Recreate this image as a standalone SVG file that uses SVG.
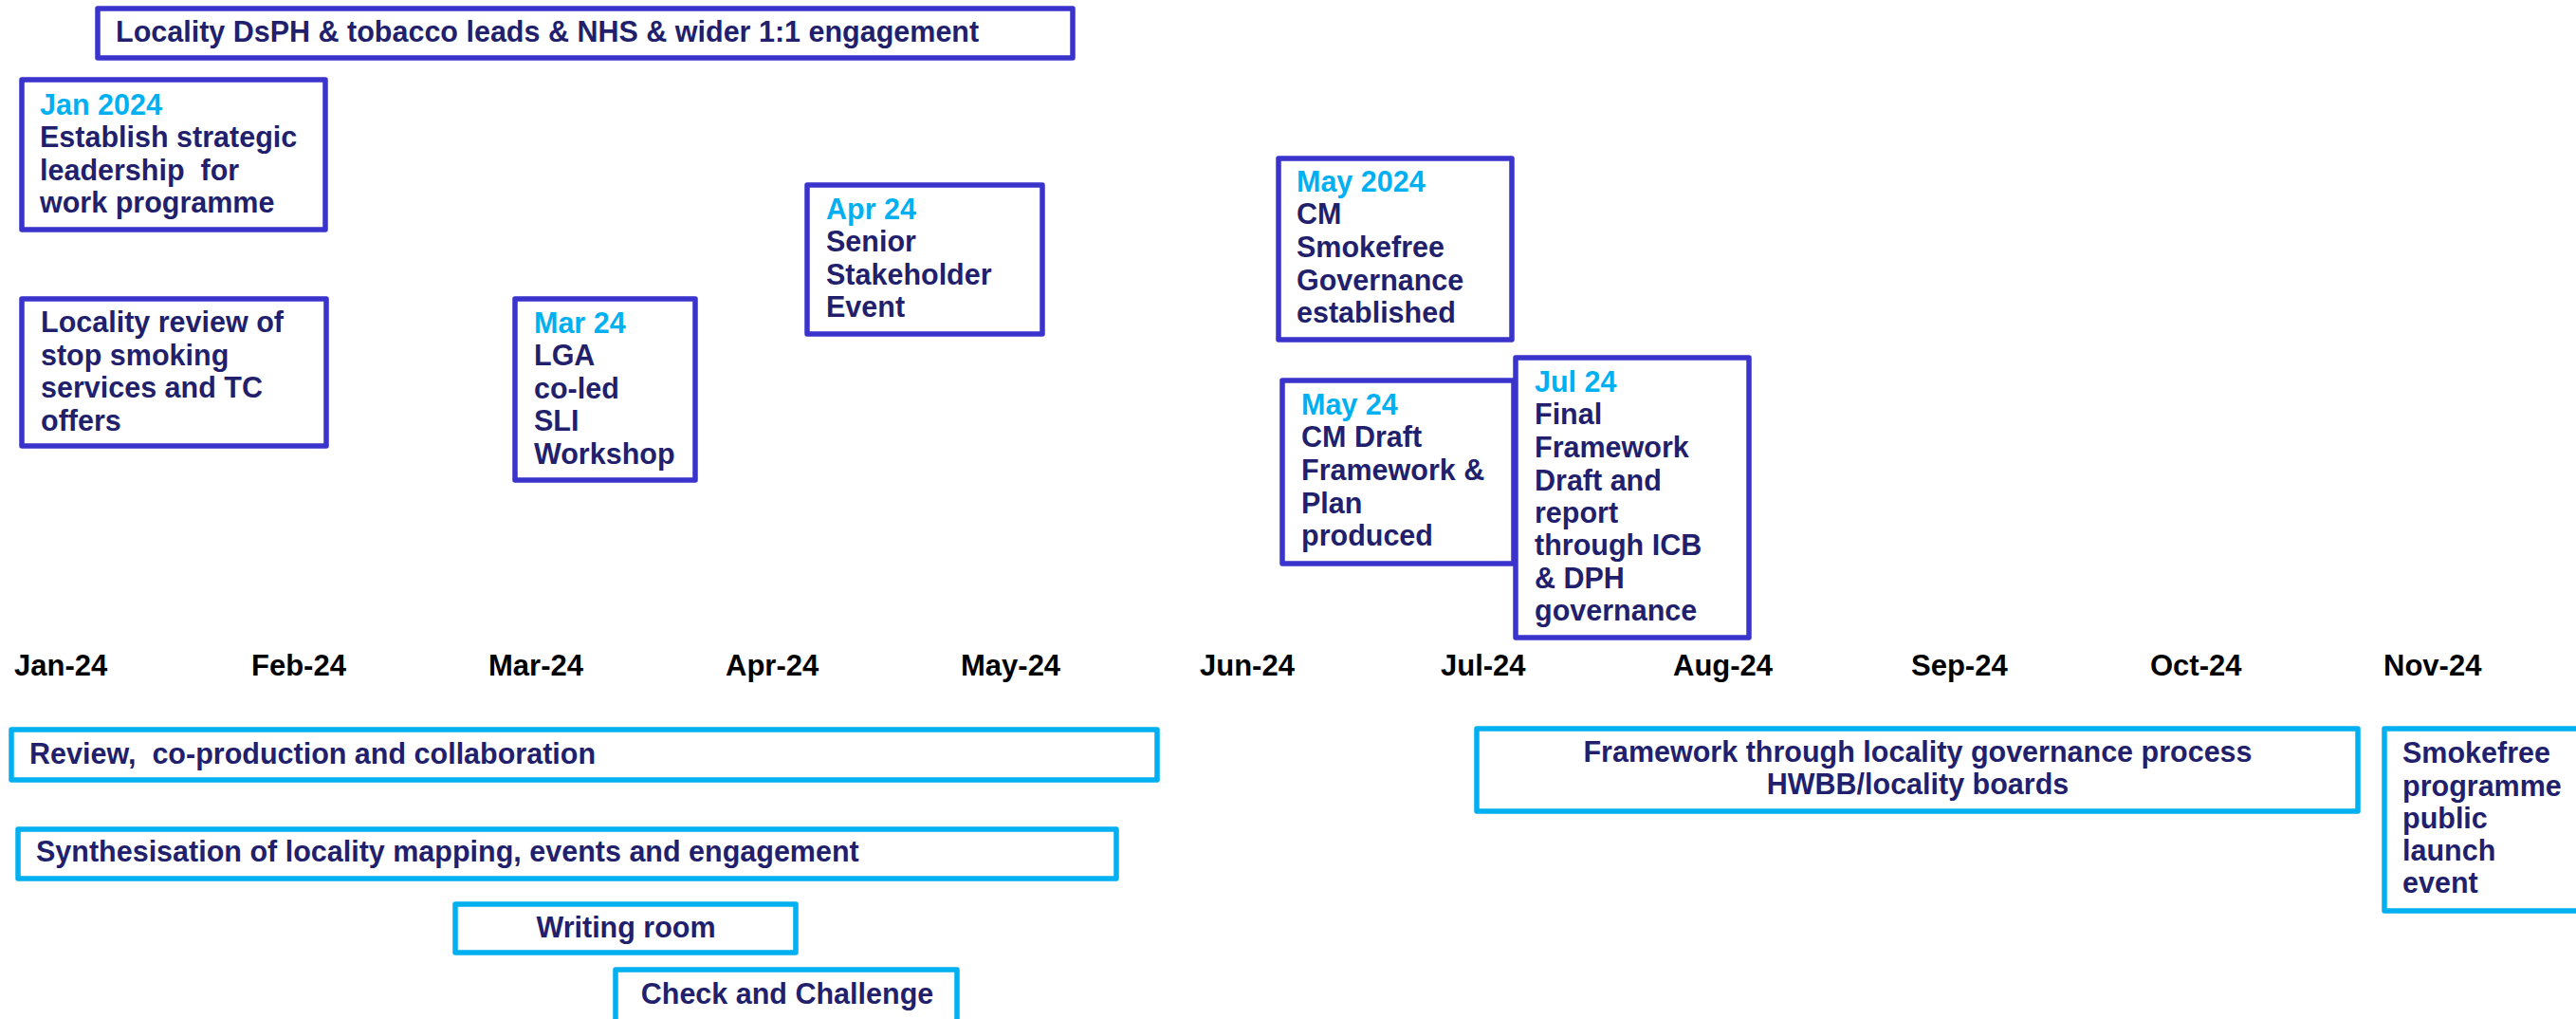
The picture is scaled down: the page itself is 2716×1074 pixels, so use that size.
<svg xmlns="http://www.w3.org/2000/svg" width="2716" height="1074" viewBox="0 0 2716 1074">
  <style>
    text { font-family: "Liberation Sans", Arial, sans-serif; font-weight: bold; font-size: 30.5px; fill: #221F6C; }
    .date { fill: #00B0F0; }
    .tick { fill: #000000; font-size: 31px; }
    .mid { text-anchor: middle; }
    .milestone { fill: #FFFFFF; stroke: #3A33CC; stroke-width: 5.5; stroke-linejoin: round; }
    .phase { fill: #FFFFFF; stroke: #00B0F0; stroke-width: 5.5; stroke-linejoin: round; }
  </style>

  <rect width="2716" height="1074" fill="#FFFFFF"/>

  <!-- milestone boxes above the timeline -->
  <g id="engagement">
    <rect class="milestone" x="103" y="9" width="1028" height="52"/>
    <text x="122" y="44">Locality DsPH &amp; tobacco leads &amp; NHS &amp; wider 1:1 engagement</text>
  </g>

  <g id="jan-2024">
    <rect class="milestone" x="23" y="84" width="320" height="158"/>
    <text x="42" y="121" class="date">Jan 2024</text>
    <text x="42" y="155">Establish strategic</text>
    <text x="42" y="190" xml:space="preserve">leadership  for</text>
    <text x="42" y="224">work programme</text>
  </g>

  <g id="locality-review">
    <rect class="milestone" x="23" y="315" width="321" height="155"/>
    <text x="43" y="350">Locality review of</text>
    <text x="43" y="385">stop smoking</text>
    <text x="43" y="419">services and TC</text>
    <text x="43" y="454">offers</text>
  </g>

  <g id="mar-24">
    <rect class="milestone" x="543" y="315" width="190" height="191"/>
    <text x="563" y="351" class="date">Mar 24</text>
    <text x="563" y="385">LGA</text>
    <text x="563" y="420">co-led</text>
    <text x="563" y="454">SLI</text>
    <text x="563" y="489">Workshop</text>
  </g>

  <g id="apr-24">
    <rect class="milestone" x="851" y="195" width="248" height="157"/>
    <text x="871" y="231" class="date">Apr 24</text>
    <text x="871" y="265">Senior</text>
    <text x="871" y="300">Stakeholder</text>
    <text x="871" y="334">Event</text>
  </g>

  <g id="may-2024">
    <rect class="milestone" x="1348" y="167" width="246" height="191"/>
    <text x="1367" y="202" class="date">May 2024</text>
    <text x="1367" y="236">CM</text>
    <text x="1367" y="271">Smokefree</text>
    <text x="1367" y="306">Governance</text>
    <text x="1367" y="340">established</text>
  </g>

  <g id="may-24">
    <rect class="milestone" x="1352" y="401" width="244" height="193"/>
    <text x="1372" y="437" class="date">May 24</text>
    <text x="1372" y="471">CM Draft</text>
    <text x="1372" y="506">Framework &amp;</text>
    <text x="1372" y="541">Plan</text>
    <text x="1372" y="575">produced</text>
  </g>

  <g id="jul-24">
    <rect class="milestone" x="1598" y="377" width="246" height="295"/>
    <text x="1618" y="413" class="date">Jul 24</text>
    <text x="1618" y="447">Final</text>
    <text x="1618" y="482">Framework</text>
    <text x="1618" y="517">Draft and</text>
    <text x="1618" y="551">report</text>
    <text x="1618" y="585">through ICB</text>
    <text x="1618" y="620">&amp; DPH</text>
    <text x="1618" y="654">governance</text>
  </g>

  <!-- month axis labels -->
  <g id="axis">
    <text class="tick" x="15" y="712">Jan-24</text>
    <text class="tick" x="265" y="712">Feb-24</text>
    <text class="tick" x="515" y="712">Mar-24</text>
    <text class="tick" x="765" y="712">Apr-24</text>
    <text class="tick" x="1013" y="712">May-24</text>
    <text class="tick" x="1265" y="712">Jun-24</text>
    <text class="tick" x="1519" y="712">Jul-24</text>
    <text class="tick" x="1764" y="712">Aug-24</text>
    <text class="tick" x="2015" y="712">Sep-24</text>
    <text class="tick" x="2267" y="712">Oct-24</text>
    <text class="tick" x="2513" y="712">Nov-24</text>
  </g>

  <!-- phase bars below the timeline -->
  <g id="review">
    <rect class="phase" x="12" y="769" width="1208" height="53"/>
    <text x="31" y="805" xml:space="preserve">Review,  co-production and collaboration</text>
  </g>

  <g id="synthesisation">
    <rect class="phase" x="19" y="874" width="1158" height="52"/>
    <text x="38" y="908">Synthesisation of locality mapping, events and engagement</text>
  </g>

  <g id="writing-room">
    <rect class="phase" x="480" y="953" width="359" height="51"/>
    <text x="660" y="988" class="mid">Writing room</text>
  </g>

  <g id="check-and-challenge">
    <rect class="phase" x="649" y="1022" width="360" height="60"/>
    <text x="830" y="1058" class="mid">Check and Challenge</text>
  </g>

  <g id="locality-governance">
    <rect class="phase" x="1557" y="768" width="929" height="87"/>
    <text x="2022" y="803" class="mid">Framework through locality governance process</text>
    <text x="2022" y="837" class="mid">HWBB/locality boards</text>
  </g>

  <g id="public-launch">
    <rect class="phase" x="2514" y="768" width="240" height="192"/>
    <text x="2533" y="804">Smokefree</text>
    <text x="2533" y="839">programme</text>
    <text x="2533" y="873">public</text>
    <text x="2533" y="907">launch</text>
    <text x="2533" y="941">event</text>
  </g>

  <g id="connectors"/>
</svg>
